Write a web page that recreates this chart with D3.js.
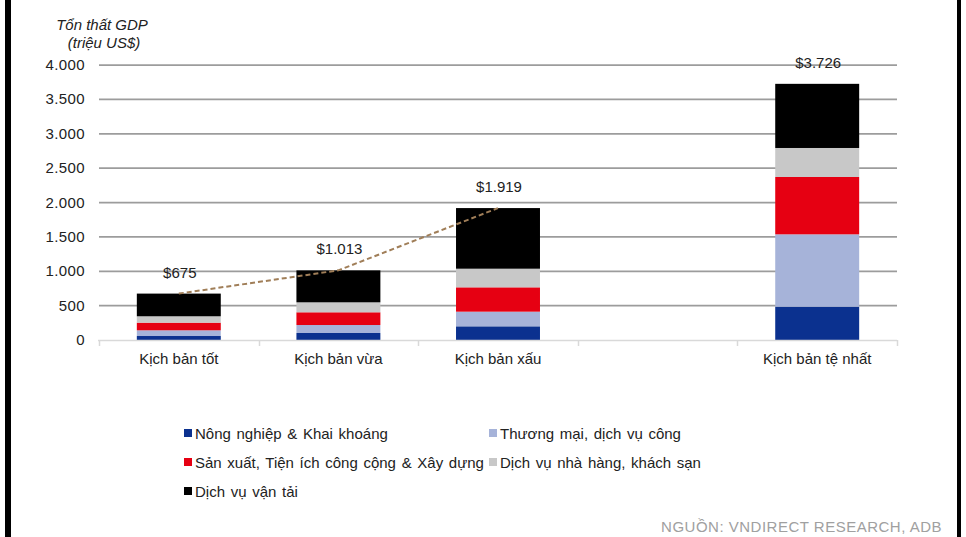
<!DOCTYPE html>
<html lang="vi">
<head>
<meta charset="utf-8">
<script src="https://cdn.jsdelivr.net/npm/d3@7"></script>
<style>
  html, body { margin: 0; padding: 0; background: #fff; }
  svg { display: block; font-family: "Liberation Sans", Arial, sans-serif; }
</style>
</head>
<body>
<svg id="chart" width="966" height="537"></svg>
<script>
// Scenario slots along the x axis ("" is an empty gap slot before the worst case)
const slots = ["Kịch bản tốt", "Kịch bản vừa", "Kịch bản xấu", "", "Kịch bản tệ nhất"];
const scenarios = ["Kịch bản tốt", "Kịch bản vừa", "Kịch bản xấu", "Kịch bản tệ nhất"];

// GDP loss by sector, million US$ (stacked bottom to top)
const seriesNames = [
  "Nông nghiệp & Khai khoáng",
  "Thương mại, dịch vụ công",
  "Sản xuất, Tiện ích công cộng & Xây dựng",
  "Dịch vụ nhà hàng, khách sạn",
  "Dịch vụ vận tải"
];
const agriculture   = [58, 102, 199, 485];
const trade         = [83, 116, 213, 1052];
const manufacturing = [111, 185, 354, 834];
const hospitality   = [93, 145, 271, 422];
const transport     = [330, 465, 882, 933];

// Totals shown above the bars
const totals = [675, 1013, 1919, 3726];
const totalLabels = ["$675", "$1.013", "$1.919", "$3.726"];

// Y axis ticks
const yTicks = [0, 500, 1000, 1500, 2000, 2500, 3000, 3500, 4000];
const yTickLabels = ["0", "500", "1.000", "1.500", "2.000", "2.500", "3.000", "3.500", "4.000"];

const colors = ["#0b318f", "#a6b3d9", "#e60012", "#c8c8c8", "#000000"];

const svg = d3.select("#chart");

const x = d3.scaleBand().domain(slots).range([99, 897]).paddingInner(0.474).paddingOuter(0.237);
const y = d3.scaleLinear().domain([0, 4000]).range([340, 65]);

// Frame bars on the page edges
svg.append("rect").attr("x", 5).attr("y", 0).attr("width", 6).attr("height", 537).attr("fill", "#000");
svg.append("rect").attr("x", 957).attr("y", 0).attr("width", 4).attr("height", 537).attr("fill", "#000");

// Horizontal gridlines
svg.append("g").selectAll("line")
  .data(yTicks.filter(d => d > 0))
  .join("line")
  .attr("x1", 99).attr("x2", 897)
  .attr("y1", d => y(d)).attr("y2", d => y(d))
  .attr("stroke", "#9c9c9c").attr("stroke-width", 1.75);

// Y tick labels
svg.append("g").selectAll("text")
  .data(yTicks)
  .join("text")
  .attr("x", 85).attr("y", d => y(d) + 5)
  .attr("text-anchor", "end")
  .attr("font-size", 15).attr("fill", "#222")
  .attr("letter-spacing", 0.4)
  .text((d, i) => yTickLabels[i]);

// Y axis title
const yt = svg.append("text").attr("font-size", 15).attr("font-style", "italic")
  .attr("fill", "#222").attr("text-anchor", "middle");
yt.append("tspan").attr("x", 102).attr("y", 30).text("Tổn thất GDP");
yt.append("tspan").attr("x", 104).attr("y", 48).text("(triệu US$)");

// Stacked bars
const rows = scenarios.map((s, i) => ({
  scenario: s,
  [seriesNames[0]]: agriculture[i],
  [seriesNames[1]]: trade[i],
  [seriesNames[2]]: manufacturing[i],
  [seriesNames[3]]: hospitality[i],
  [seriesNames[4]]: transport[i]
}));
const stacked = d3.stack().keys(seriesNames)(rows);

svg.append("g").selectAll("g")
  .data(stacked)
  .join("g")
  .attr("fill", (d, i) => colors[i])
  .selectAll("rect")
  .data(d => d)
  .join("rect")
  .attr("x", d => x(d.data.scenario))
  .attr("width", x.bandwidth())
  .attr("y", d => y(d[1]))
  .attr("height", d => y(d[0]) - y(d[1]));

// Category axis line with boundary ticks
const axisG = svg.append("g");
axisG.append("line")
  .attr("x1", 98).attr("x2", 897).attr("y1", 340.5).attr("y2", 340.5)
  .attr("stroke", "#d9d9d9").attr("stroke-width", 1.5);
const boundaries = slots.map(s => x(s) - x.step() * x.paddingInner() / 2).concat([897]);
axisG.selectAll("line.tick")
  .data(boundaries)
  .join("line")
  .attr("class", "tick")
  .attr("x1", d => Math.round(d) + 0.5).attr("x2", d => Math.round(d) + 0.5)
  .attr("y1", 340).attr("y2", 346)
  .attr("stroke", "#d9d9d9").attr("stroke-width", 1.5);

axisG.selectAll("text")
  .data(scenarios)
  .join("text")
  .attr("x", d => x(d) + x.bandwidth() / 2)
  .attr("y", 364)
  .attr("text-anchor", "middle")
  .attr("font-size", 15).attr("fill", "#222")
  .text(d => d);

// Dashed trend of totals across the first three scenarios
const trend = d3.line()
  .x(d => x(d.s) + x.bandwidth() / 2)
  .y(d => y(d.v));
svg.append("path")
  .datum(scenarios.slice(0, 3).map((s, i) => ({ s, v: totals[i] })))
  .attr("d", trend)
  .attr("fill", "none")
  .attr("stroke", "#a07e58")
  .attr("stroke-width", 2)
  .attr("stroke-dasharray", "5,3");

// Total labels
svg.append("g").selectAll("text")
  .data(scenarios)
  .join("text")
  .attr("x", d => x(d) + x.bandwidth() / 2 + 1)
  .attr("y", (d, i) => y(totals[i]) - 16)
  .attr("text-anchor", "middle")
  .attr("font-size", 15).attr("fill", "#222")
  .text((d, i) => totalLabels[i]);

// Legend
const legendPos = [
  [184, 433], [489, 433],
  [184, 462], [489, 462],
  [184, 491]
];
const lg = svg.append("g").selectAll("g")
  .data(seriesNames)
  .join("g")
  .attr("transform", (d, i) => `translate(${legendPos[i][0]},${legendPos[i][1]})`);
lg.append("rect").attr("x", 0).attr("y", -4).attr("width", 8).attr("height", 8)
  .attr("fill", (d, i) => colors[i]);
lg.append("text").attr("x", 11).attr("y", 5.5)
  .attr("font-size", 15).attr("fill", "#222")
  .attr("word-spacing", 1.5)
  .text(d => d);

// Source note
svg.append("text")
  .attr("x", 942).attr("y", 532)
  .attr("text-anchor", "end")
  .attr("font-size", 15).attr("fill", "#a0a0a0")
  .attr("letter-spacing", 0.5)
  .text("NGUỒN: VNDIRECT RESEARCH, ADB");
</script>
</body>
</html>
